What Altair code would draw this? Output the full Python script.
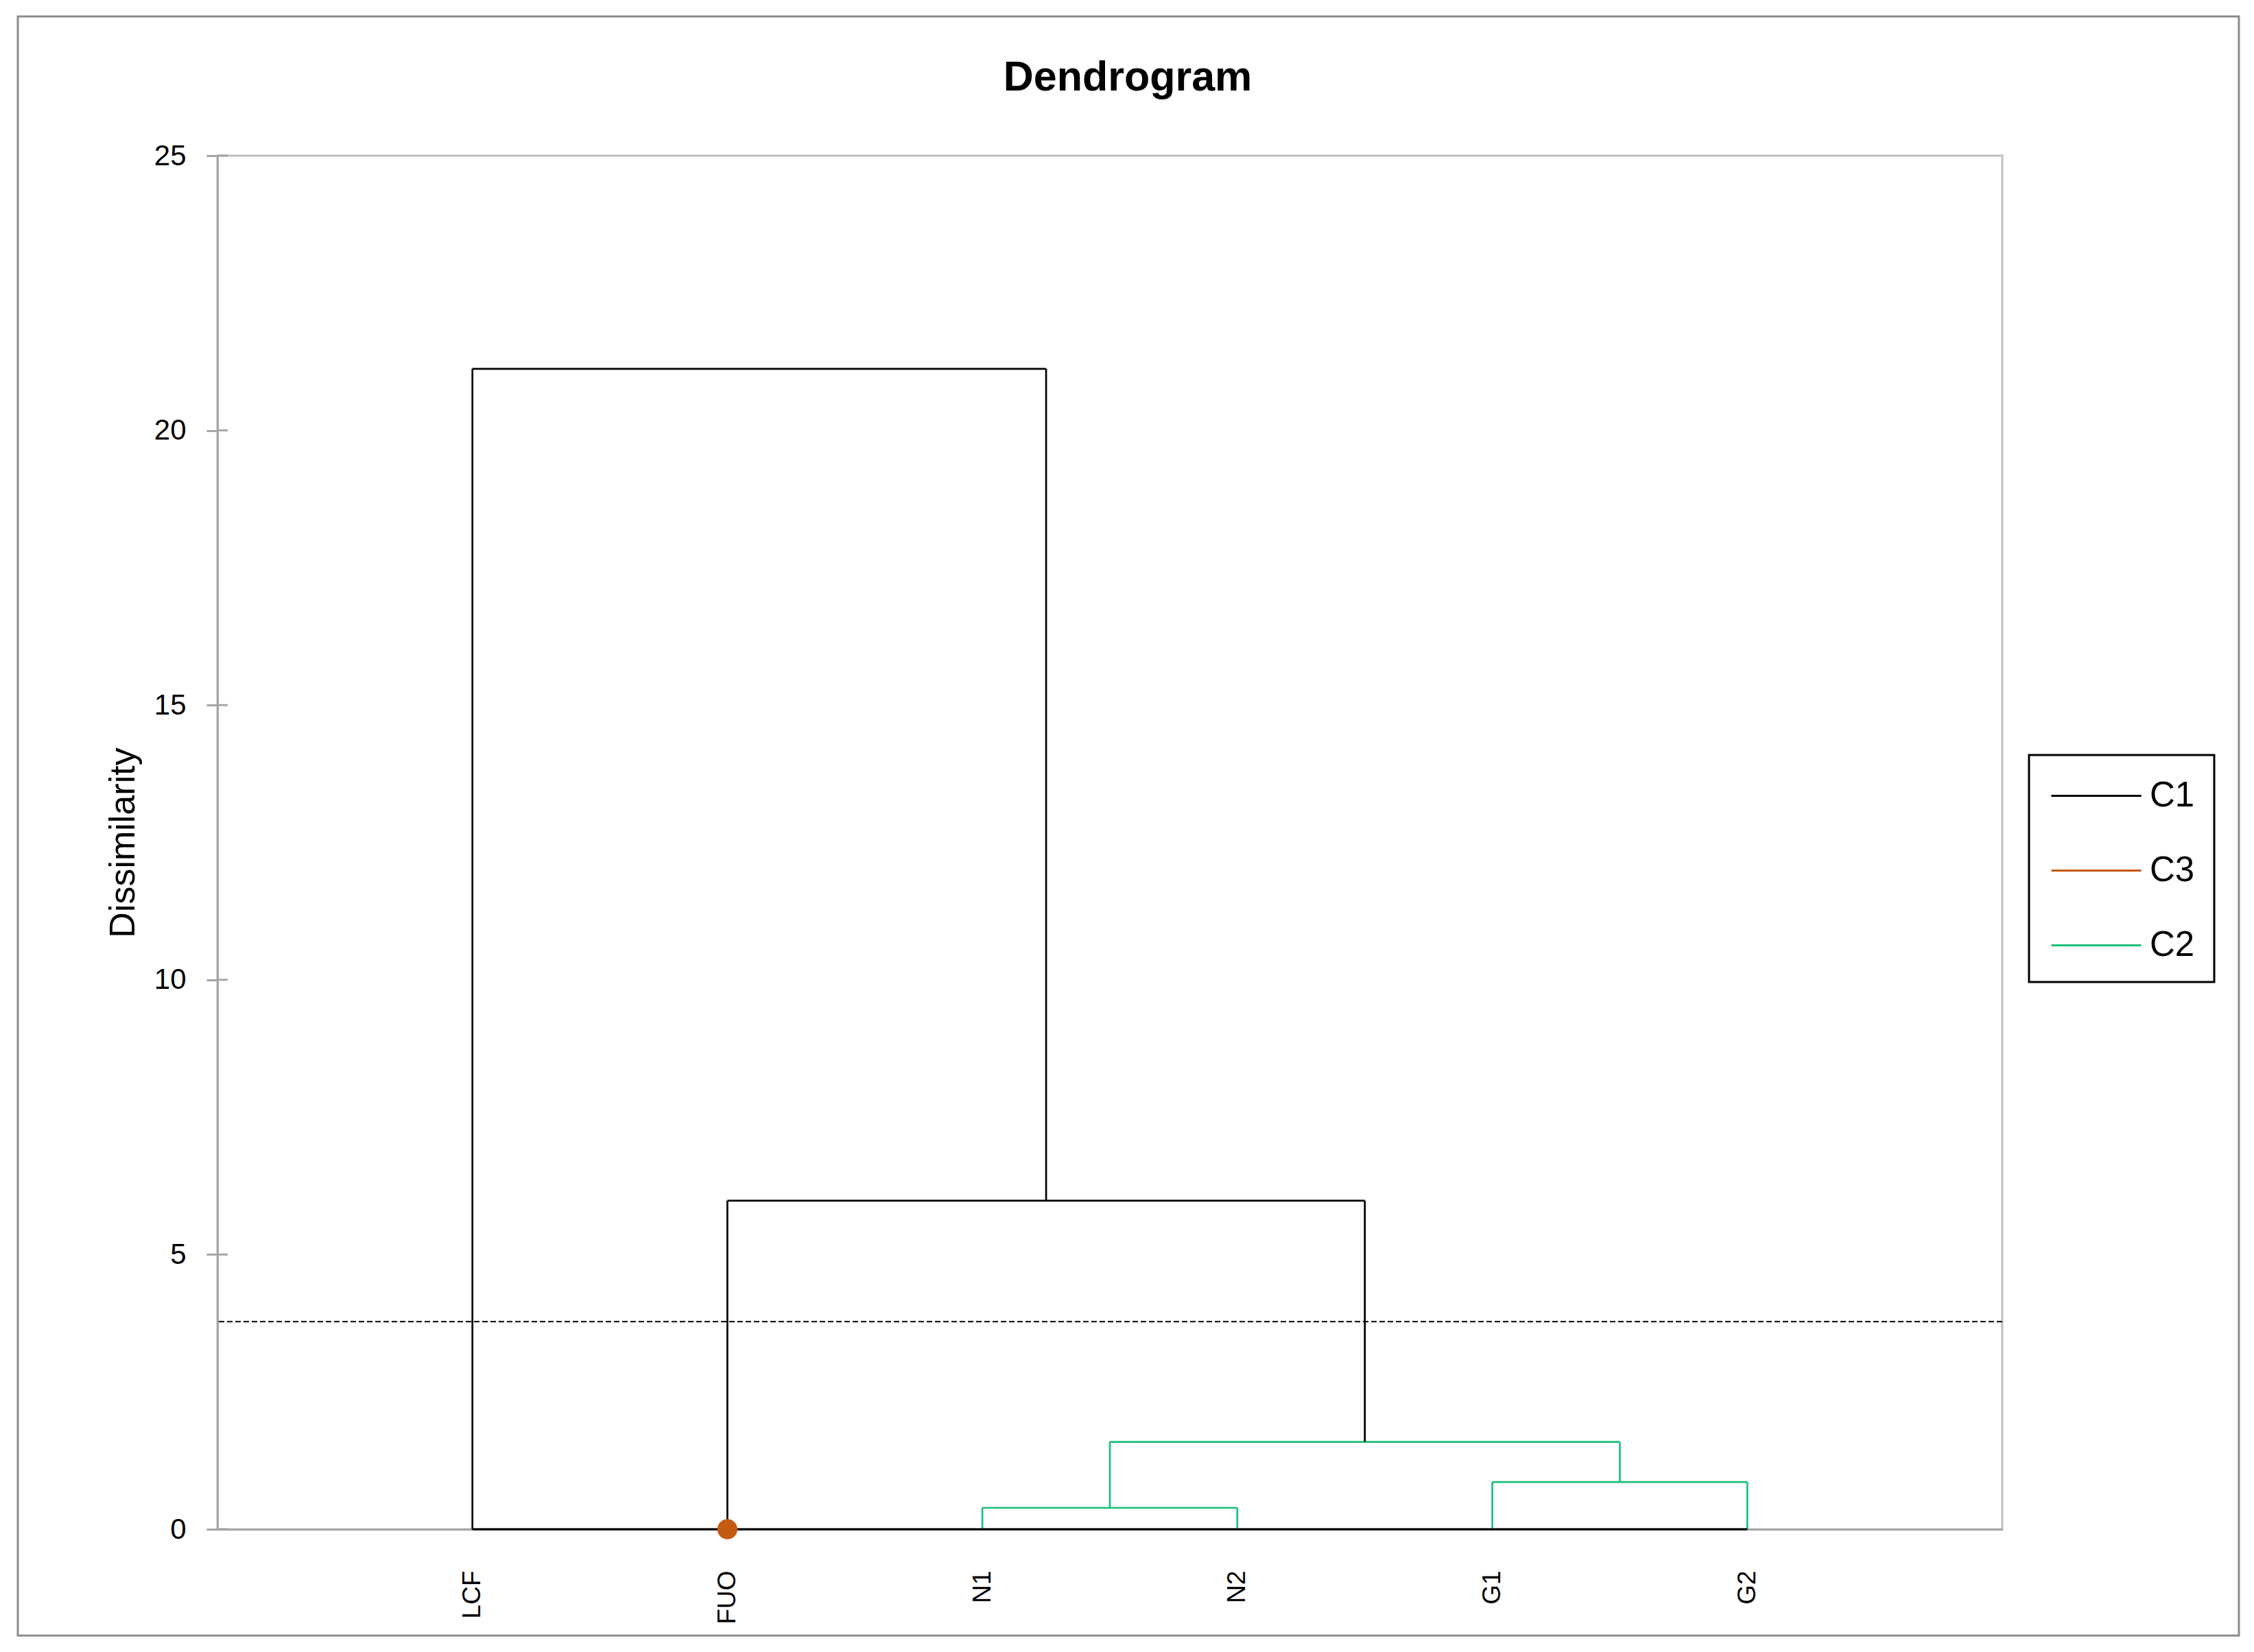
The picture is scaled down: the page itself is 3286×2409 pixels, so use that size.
import json
import altair as alt
import pandas as pd

# ---------------- data ----------------
chart_title = "Dendrogram"
leaves = ["LCF", "FUO", "N1", "N2", "G1", "G2"]
# agglomeration steps (scipy-like node indices: leaves 0..5, new nodes 6..)
merge_left = [2, 4, 6, 1, 0]
merge_right = [3, 5, 7, 8, 9]
merge_height = [0.39, 0.86, 1.59, 5.98, 21.12]
truncation_level = 3.78
cluster_labels = ["C1", "C3", "C2"]
cluster_colors = ["#000000", "#C55A11", "#1DBF7C"]
singleton_leaves = ["FUO"]
singleton_clusters = ["C3"]
y_ticks = [0, 5, 10, 15, 20, 25]

# ---------------- build dendrogram segments ----------------
node_x = {i: float(i) for i in range(len(leaves))}
node_h = {i: 0.0 for i in range(len(leaves))}
segs = []
for k, (a, b, h) in enumerate(zip(merge_left, merge_right, merge_height)):
    nid = len(leaves) + k
    col = "C2" if h < truncation_level else "C1"
    xa, xb = node_x[a], node_x[b]
    segs.append({"x": xa, "x2": xb, "y": h, "y2": h, "cluster": col})
    segs.append({"x": xa, "x2": xa, "y": node_h[a], "y2": h, "cluster": col})
    segs.append({"x": xb, "x2": xb, "y": node_h[b], "y2": h, "cluster": col})
    node_x[nid] = (xa + xb) / 2
    node_h[nid] = h
seg_df = pd.DataFrame(segs)
base_df = pd.DataFrame({"x": [0.0], "x2": [float(len(leaves) - 1)], "y": [0.0], "y2": [0.0], "cluster": ["C1"]})
dot_df = pd.DataFrame({"x": [float(leaves.index(l)) for l in singleton_leaves], "y": [0.0] * len(singleton_leaves),
                       "cluster": singleton_clusters})
thr_df = pd.DataFrame({"y": [truncation_level]})
tick_df = pd.DataFrame({"y": y_ticks})
title_df = pd.DataFrame({"t": [chart_title]})

FONT = "Liberation Sans"
W, H = 2602, 2003

xscale = alt.Scale(domain=[-1, len(leaves)], nice=False, zero=False)
yscale = alt.Scale(domain=[0, 25], nice=False)
cscale = alt.Scale(domain=cluster_labels, range=cluster_colors)

label_expr = json.dumps(leaves) + "[datum.value]"

xaxis = alt.Axis(values=list(range(len(leaves))), labelExpr=label_expr, title=None, ticks=False,
                 labelAngle=270, labelFont=FONT, labelFontSize=37, labelColor="#000000",
                 labelPadding=60, domainColor="#A6A6A6", domainWidth=3, grid=False)
yaxis = alt.Axis(values=y_ticks, format="d", title="Dissimilarity", titleFont=FONT, titleFontSize=52,
                 titleFontWeight="normal", titleColor="#000000", titlePadding=18,
                 labelFont=FONT, labelFontSize=42, labelColor="#000000", labelPadding=30,
                 tickSize=16, tickColor="#A6A6A6", tickWidth=3, domainColor="#A6A6A6",
                 domainWidth=3, grid=False)

# outer frame
frame = alt.Chart(pd.DataFrame({"a": [0]})).mark_rect(
    fill="transparent", stroke="#8C8C8C", strokeWidth=3
).encode(x=alt.value(-291), x2=alt.value(2947), y=alt.value(-203), y2=alt.value(2158))

title = alt.Chart(title_df).mark_text(
    font=FONT, fontSize=61, fontWeight="bold", color="#000000", align="center", baseline="alphabetic"
).encode(text="t:N", x=alt.value(1327), y=alt.value(-95))

links = alt.Chart(seg_df).mark_rule(strokeWidth=2.7).encode(
    x=alt.X("x:Q", scale=xscale, axis=xaxis),
    x2="x2:Q",
    y=alt.Y("y:Q", scale=yscale, axis=yaxis),
    y2="y2:Q",
    color=alt.Color("cluster:N", scale=cscale, title=None,
                    legend=alt.Legend(orient="none", legendX=2641, legendY=874,
                                      symbolType="M-0.9,0H3.47", symbolSize=3600,
                                      symbolStrokeWidth=3, labelFont=FONT, labelFontSize=51,
                                      labelColor="#000000", labelOffset=85, rowPadding=52,
                                      padding=28, strokeColor="#000000")),
)

baseline = alt.Chart(base_df).mark_rule(strokeWidth=3).encode(
    x=alt.X("x:Q", scale=xscale), x2="x2:Q", y=alt.Y("y:Q", scale=yscale), y2="y2:Q",
    color=alt.Color("cluster:N", scale=cscale, legend=None),
)

dots = alt.Chart(dot_df).mark_circle(size=860, opacity=1).encode(
    x=alt.X("x:Q", scale=xscale), y=alt.Y("y:Q", scale=yscale),
    color=alt.Color("cluster:N", scale=cscale, legend=None),
)

thr = alt.Chart(thr_df).mark_rule(color="#000000", strokeWidth=2, strokeDash=[8, 4]).encode(
    y=alt.Y("y:Q", scale=yscale)
)

inner_ticks = alt.Chart(tick_df).mark_rule(color="#A6A6A6", strokeWidth=3).encode(
    y=alt.Y("y:Q", scale=yscale), x=alt.value(0), x2=alt.value(15)
)

chart = alt.layer(frame, title, thr, links, baseline, dots, inner_ticks).properties(
    width=W, height=H,
    autosize=alt.AutoSizeParams(type="none"),
    padding={"left": 309, "top": 219, "right": 350, "bottom": 165},
).configure_view(stroke="#BFBFBF", strokeWidth=3).configure_legend(strokeWidth=3)

chart.save("out.html", embed_options={"renderer": "svg", "actions": False})
